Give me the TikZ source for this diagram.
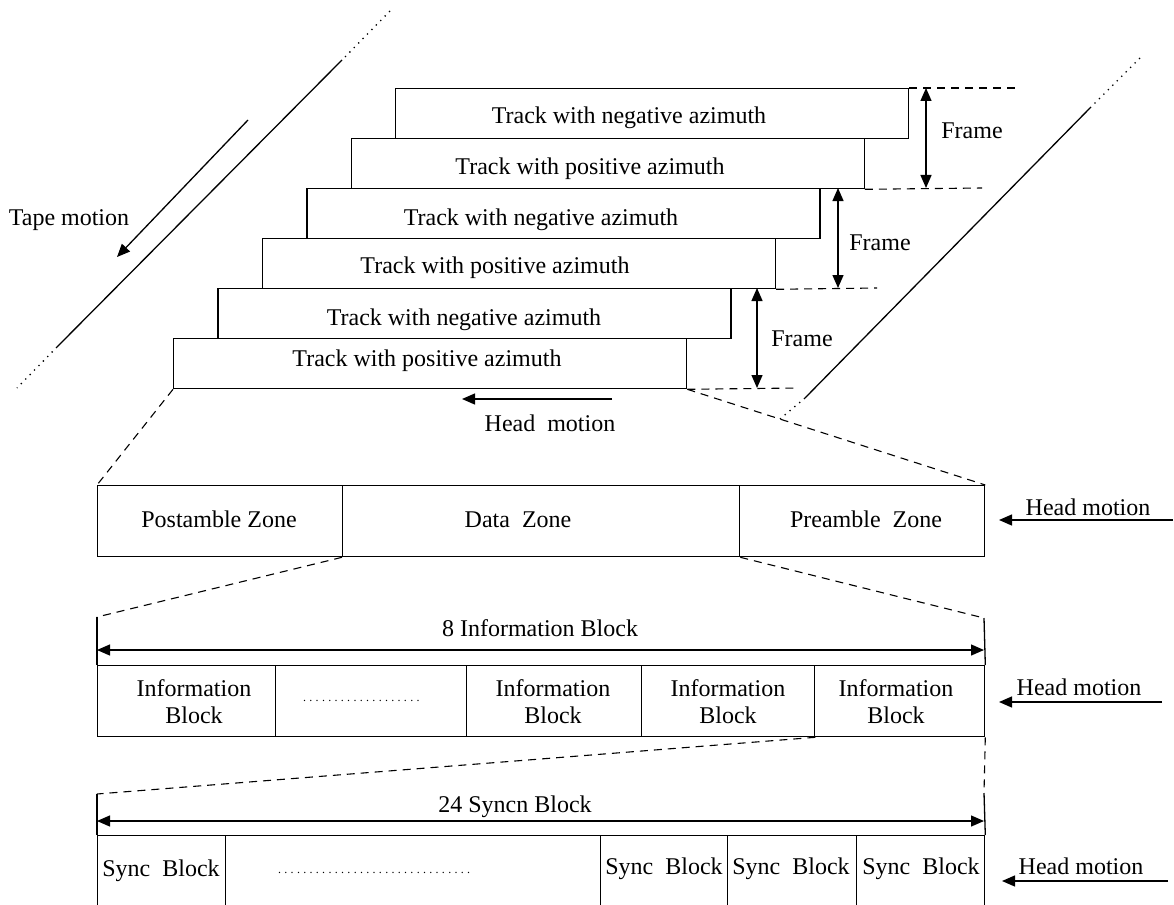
\documentclass[tikz,border=0pt]{standalone}
\usepackage{fontspec}
\setmainfont{Liberation Serif}
\usetikzlibrary{arrows.meta,positioning}

\newcommand{\dotrun}[1]{\makebox[#1]{\fontsize{12}{14}\selectfont\leaders\hbox to 6.3pt{\hss.\hss}\hfill}}

\begin{document}
\begin{tikzpicture}[x=1pt, y=-1pt,
    twoline/.style={font=\fontsize{24}{27}\selectfont, inner sep=0pt, align=center},
    lbl/.style={twoline, text height=16.8pt, text depth=5.3pt, yshift=-2.5pt},
    trackbox/.style={draw, line width=1.3pt, anchor=north west, minimum width=513pt, minimum height=50pt, inner sep=0pt},
    cellbox/.style={draw, line width=1.3pt, anchor=north west, minimum height=71pt, inner sep=0pt},
    guide/.style={line width=1.1pt, dash pattern=on 8pt off 6pt},
    tapeline/.style={line width=1.3pt},
    tapedots/.style={line width=1.3pt, dash pattern=on 1.3pt off 5pt},
    motion/.style={line width=1.3pt, -{Triangle[length=13pt, width=11pt]}},
    span/.style={line width=1.3pt, {Triangle[length=13pt, width=11pt]}-{Triangle[length=13pt, width=11pt]}}]

\useasboundingbox (0,0) rectangle (1174,904);

% tape edges
\coordinate (lt0) at (390,11);
\coordinate (lt1) at (342,60);
\coordinate (lt2) at (57,347);
\coordinate (lt3) at (17,388);
\draw[tapedots] (lt0) -- (lt1);
\draw[tapeline] (lt1) -- (lt2);
\draw[tapedots] (lt2) -- (lt3);
\coordinate (rt0) at (1140,58);
\coordinate (rt1) at (1090,108);
\coordinate (rt2) at (805,398);
\coordinate (rt3) at (780,419);
\draw[tapedots] (rt0) -- (rt1);
\draw[tapeline] (rt1) -- (rt2);
\draw[tapedots] (rt2) -- (rt3);

% tape motion
\coordinate (tm0) at (248,120);
\coordinate (tm1) at (117,257);
\draw[motion] (tm0) -- (tm1);
\node[lbl] (tapelbl) at (69,217) {Tape motion};

% tracks
\node[trackbox] (tr1) at (395,88) {};
\node[trackbox] (tr2) at (350.6,138) {};
\node[trackbox] (tr3) at (306.2,188) {};
\node[trackbox] (tr4) at (261.8,238) {};
\node[trackbox] (tr5) at (217.4,288) {};
\node[trackbox] (tr6) at (173,338) {};
\node[lbl] (t1) at (629,115) {Track with negative azimuth};
\node[lbl] (t2) at (590,166) {Track with positive azimuth};
\node[lbl] (t3) at (541,217) {Track with negative azimuth};
\node[lbl] (t4) at (495,265) {Track with positive azimuth};
\node[lbl] (t5) at (464,317) {Track with negative azimuth};
\node[lbl] (t6) at (427,358) {Track with positive azimuth};

% frames
\coordinate (g1) at (1015,88);
\coordinate (g2) at (982,188);
\coordinate (g3) at (877,288);
\coordinate (g4) at (798,388);
\draw[guide] (tr1.north east) -- (g1);
\draw[guide] (tr2.south east) -- (g2);
\draw[guide] (tr4.south east) -- (g3);
\draw[guide] (tr6.south east) -- (g4);
\coordinate (fa1) at (926,88);  \coordinate (fb1) at (926,188);
\coordinate (fa2) at (838,188); \coordinate (fb2) at (838,288);
\coordinate (fa3) at (757,288); \coordinate (fb3) at (757,388);
\draw[span] (fa1) -- (fb1);
\draw[span] (fa2) -- (fb2);
\draw[span] (fa3) -- (fb3);
\node[lbl] (fr1) at (972,130) {Frame};
\node[lbl] (fr2) at (880,242) {Frame};
\node[lbl] (fr3) at (802,338) {Frame};

% head motion under the tracks
\coordinate (hm0) at (612,399);
\coordinate (hm1) at (462,399);
\draw[motion] (hm0) -- (hm1);
\node[lbl] (hmlbl) at (550,423) {Head\ \ motion};

% zones
\node[cellbox, minimum width=245pt] (post) at (97,485) {};
\node[cellbox, minimum width=397pt] (data) at (342,485) {};
\node[cellbox, minimum width=245pt] (pre) at (739,485) {};
\node[lbl] (postlbl) at (219,519) {Postamble Zone};
\node[lbl] (datalbl) at (518,519) {Data\ \ Zone};
\node[lbl] (prelbl) at (866,519) {Preamble\ \ Zone};
\draw[guide] (tr6.south west) -- (post.north west);
\draw[guide] (tr6.south east) -- (pre.north east);
\coordinate (hz0) at (1173,520);
\coordinate (hz1) at (999,520);
\draw[motion] (hz0) -- (hz1);
\node[lbl] (hzlbl) at (1088,507) {Head motion};

% information blocks
\node[cellbox, minimum width=178pt] (ib1) at (97,665) {};
\node[cellbox, minimum width=191pt] (ib2) at (275,665) {};
\node[cellbox, minimum width=175pt] (ib3) at (466,665) {};
\node[cellbox, minimum width=173pt] (ib4) at (641,665) {};
\node[cellbox, minimum width=170pt] (ib5) at (814,665) {};
\node[twoline] (il1) at (194,702) {Information\\Block};
\node[twoline] (il2) at (362,701) {\dotrun{121pt}};
\node[twoline] (il3) at (553,702) {Information\\Block};
\node[twoline] (il4) at (728,702) {Information\\Block};
\node[twoline] (il5) at (896,702) {Information\\Block};
\coordinate (il) at (97,617);
\coordinate (ir) at (984,618);
\draw[guide] (data.south west) -- (il);
\draw[guide] (data.south east) -- (ir);
\draw[tapeline] (il) -- (ib1.north west);
\draw[tapeline] (ir) -- (ib5.north east);
\coordinate (ia) at (97,650);
\coordinate (ib) at (984,650);
\draw[span] (ia) -- (ib);
\node[lbl] (iblbl) at (540,628) {8 Information Block};
\coordinate (hi0) at (1162,702);
\coordinate (hi1) at (999,702);
\draw[motion] (hi0) -- (hi1);
\node[lbl] (hilbl) at (1079,687) {Head motion};

% sync blocks
\node[cellbox, minimum width=128pt] (sb1) at (97,835) {};
\node[cellbox, minimum width=375pt] (sb2) at (225,835) {};
\node[cellbox, minimum width=127pt] (sb3) at (600,835) {};
\node[cellbox, minimum width=129pt] (sb4) at (727,835) {};
\node[cellbox, minimum width=128pt] (sb5) at (856,835) {};
\node[lbl] (sl1) at (161,868) {Sync\ \ Block};
\node[twoline] (sl2) at (375,873) {\dotrun{197pt}};
\node[lbl] (sl3) at (664,866) {Sync\ \ Block};
\node[lbl] (sl4) at (791,866) {Sync\ \ Block};
\node[lbl] (sl5) at (921,866) {Sync\ \ Block};
\coordinate (sl) at (97,794);
\coordinate (sr) at (984,793);
\draw[guide] (ib4.south east) -- (sl);
\draw[guide] (ib5.south east) -- (sr);
\draw[tapeline] (sl) -- (sb1.north west);
\draw[tapeline] (sr) -- (sb5.north east);
\coordinate (sa) at (97,821);
\coordinate (sb) at (984,821);
\draw[span] (sa) -- (sb);
\node[lbl] (sblbl) at (515,804) {24 Syncn Block};
\coordinate (hs0) at (1168,881);
\coordinate (hs1) at (1002,881);
\draw[motion] (hs0) -- (hs1);
\node[lbl] (hslbl) at (1081,866) {Head motion};
\end{tikzpicture}
\end{document}
